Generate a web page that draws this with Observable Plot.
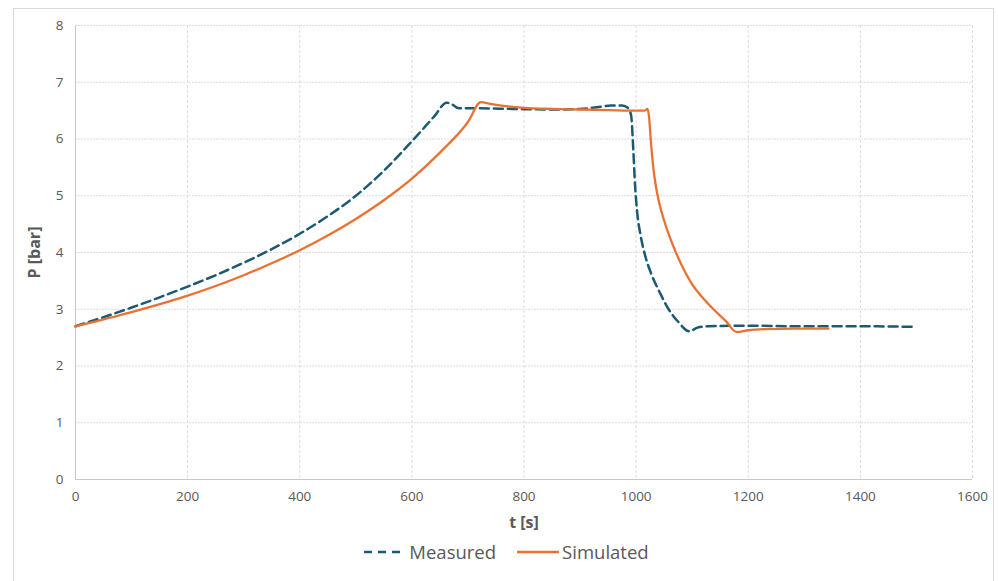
<!DOCTYPE html>
<html>
<head>
<meta charset="utf-8">
<script src="https://cdn.jsdelivr.net/npm/d3@7"></script>
<script src="https://cdn.jsdelivr.net/npm/@observablehq/plot@0.6"></script>
<style>
  html, body { margin: 0; padding: 0; background: #fff; }
  body { width: 998px; height: 581px; position: relative; overflow: hidden; font-family: "Open Sans", sans-serif; }
  #frame { position: absolute; left: 13px; top: 8px; width: 981px; height: 580px; border: 1px solid #d9d9d9; box-sizing: border-box; }
  #chart { position: absolute; left: 0; top: 0; }
  #legend { position: absolute; left: 0; top: 539px; width: 998px; display: flex; justify-content: center; gap: 20px; font-size: 18.5px; color: #595959; padding-left: 14px; box-sizing: border-box; }
  .item { display: flex; align-items: center; gap: 2px; }
</style>
</head>
<body>
<div id="frame"></div>
<div id="chart"></div>
<div id="legend">
  <div class="item"><svg width="44" height="10"><line x1="1" y1="5" x2="43" y2="5" stroke="#1b5a72" stroke-width="2.5" stroke-dasharray="8,6"/></svg><span>Measured</span></div>
  <div class="item"><svg width="44" height="10"><line x1="1" y1="5" x2="43" y2="5" stroke="#e97132" stroke-width="2.5"/></svg><span>Simulated</span></div>
</div>
<script>
const xTicks = [0, 200, 400, 600, 800, 1000, 1200, 1400, 1600];
const yTicks = [0, 1, 2, 3, 4, 5, 6, 7, 8];

const measuredT = [0, 50, 100, 150, 200, 250, 300, 350, 400, 450, 500, 550, 600, 640, 662, 670, 684, 720, 780, 850, 900, 930, 955, 975, 985, 991, 995, 998, 1002, 1008, 1016, 1028, 1042, 1058, 1075, 1095, 1110, 1130, 1200, 1300, 1400, 1500];
const measuredP = [2.70, 2.86, 3.03, 3.21, 3.40, 3.60, 3.82, 4.06, 4.33, 4.64, 5.00, 5.44, 5.96, 6.40, 6.64, 6.62, 6.54, 6.54, 6.53, 6.52, 6.53, 6.56, 6.59, 6.59, 6.55, 6.42, 5.80, 5.20, 4.70, 4.30, 3.95, 3.60, 3.30, 3.00, 2.78, 2.61, 2.68, 2.70, 2.71, 2.70, 2.70, 2.69];

const simulatedT = [0, 100, 200, 300, 350, 400, 450, 500, 550, 600, 650, 700, 723, 740, 760, 800, 850, 900, 950, 1000, 1015, 1020, 1023, 1026, 1030, 1035, 1041, 1050, 1060, 1071, 1085, 1100, 1120, 1139, 1160, 1179, 1200, 1230, 1280, 1343];
const simulatedP = [2.70, 2.95, 3.24, 3.60, 3.81, 4.04, 4.30, 4.59, 4.92, 5.30, 5.76, 6.30, 6.65, 6.62, 6.59, 6.55, 6.53, 6.52, 6.51, 6.50, 6.50, 6.53, 6.40, 6.00, 5.55, 5.18, 4.88, 4.56, 4.27, 4.00, 3.70, 3.44, 3.19, 2.99, 2.79, 2.60, 2.63, 2.65, 2.66, 2.66];

const measured = measuredT.map((t, i) => ({t, p: measuredP[i]}));
const simulated = simulatedT.map((t, i) => ({t, p: simulatedP[i]}));

const chart = Plot.plot({
  width: 998,
  height: 536,
  marginLeft: 75,
  marginRight: 26,
  marginTop: 25,
  marginBottom: 57,
  style: {fontFamily: "'Open Sans', sans-serif", fontSize: "13px", color: "#595959", background: "transparent"},
  x: {domain: [0, 1600], ticks: xTicks},
  y: {domain: [0, 8], ticks: yTicks},
  marks: [
    Plot.gridY(yTicks.filter(d => d > 0), {stroke: "#dcdcdc", strokeOpacity: 1, strokeDasharray: "2,1"}),
    Plot.gridX(xTicks.filter(d => d > 0), {stroke: "#dcdcdc", strokeOpacity: 1, strokeDasharray: "3,2"}),
    Plot.ruleX([0], {stroke: "#c8c8c8", strokeWidth: 1}),
    Plot.ruleY([0], {stroke: "#c8c8c8", strokeWidth: 1}),
    Plot.axisX({ticks: xTicks, tickFormat: d => String(d), tickSize: 0, tickPadding: 12, fontSize: 13.5, fill: "#595959",
      label: "t [s]", labelAnchor: "center", labelArrow: "none", labelOffset: 48}),
    Plot.axisY({ticks: yTicks, tickFormat: d => String(d), tickSize: 0, tickPadding: 12, fontSize: 13.5, fill: "#595959",
      label: "P [bar]", labelAnchor: "center", labelArrow: "none", labelOffset: 47}),
    Plot.line(measured, {x: "t", y: "p", stroke: "#1b5a72", strokeWidth: 2.5, strokeDasharray: "9,5", curve: "monotone-x"}),
    Plot.line(simulated, {x: "t", y: "p", stroke: "#e97132", strokeWidth: 2.3, curve: "monotone-x"})
  ]
});
chart.querySelectorAll("[aria-label='x-axis label'] text, [aria-label='y-axis label'] text").forEach(t => {
  t.style.fontWeight = "bold"; t.style.fontSize = "16px"; t.setAttribute("fill", "#595959");
});
document.getElementById("chart").appendChild(chart);
</script>
</body>
</html>
